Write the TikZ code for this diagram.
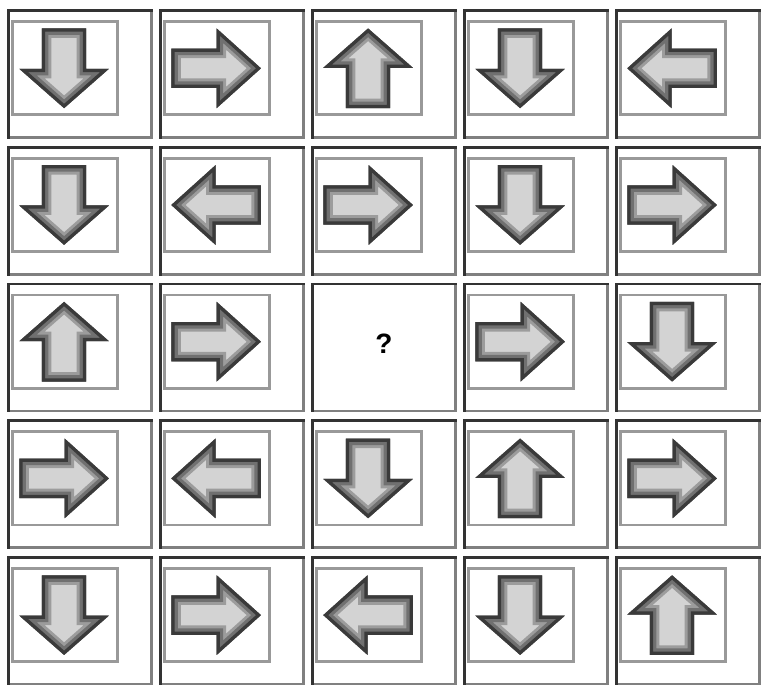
\documentclass[tikz,border=0pt]{standalone}
\usepackage{fontspec}
\setmainfont{Liberation Sans}
\definecolor{edgedark}{HTML}{333333}
\definecolor{edgegray}{HTML}{808080}
\definecolor{boxgray}{HTML}{999999}
\definecolor{arrA}{HTML}{3A3A3A}
\definecolor{arrB}{HTML}{707070}
\definecolor{arrC}{HTML}{9C9C9C}
\definecolor{arrD}{HTML}{D3D3D3}
\newcommand\arrowshape[1]{\path[#1] (-0.415,-0.205) -- (0.005,-0.205) -- (0.005,-0.415) -- (0.415,0) -- (0.005,0.415) -- (0.005,0.205) -- (-0.415,0.205) -- cycle;}
\tikzset{
  innerbox/.style={draw=boxgray, line width=2.7pt},
  bandC/.style={draw=arrC, line width=19pt, line join=miter},
  bandB/.style={draw=arrB, line width=13pt, line join=miter},
  bandA/.style={draw=arrA, line width=6.5pt, line join=miter},
  qmark/.style={font=\bfseries\fontsize{28}{28}\selectfont, text=black, inner sep=0pt}
}
\begin{document}
\begin{tikzpicture}[x=1pt,y=-1pt]
\useasboundingbox (0,0) rectangle (763,685);
\fill[white] (0,0) rectangle (763,685);
\begin{scope}
\clip (0,0) rectangle (763,685);
\foreach \d [count=\k from 0] in {270,0,90,270,180, 270,180,0,270,0, 90,0,-1,0,270, 0,180,270,90,0, 270,0,180,270,90} {
  \pgfmathtruncatemacro\col{mod(\k,5)}
  \pgfmathtruncatemacro\row{div(\k,5)}
  \pgfmathsetmacro\xo{7.3+152*\col}
  \pgfmathsetmacro\yo{9.3+136.7*\row}
  % outer cell frame
  \fill[edgedark] (\xo,\yo) rectangle ++(145.5,2.7);
  \fill[edgedark] (\xo,\yo) rectangle ++(2.7,129.5);
  \fill[edgegray] ({\xo+142.8},{\yo+2.7}) rectangle ({\xo+145.5},{\yo+129.5});
  \fill[edgegray] ({\xo+2.7},{\yo+126.8}) rectangle ({\xo+145.5},{\yo+129.5});
  \coordinate (cell-\row-\col) at ({\xo+72.75},{\yo+64.75});
  \ifnum\d<0
    \node[qmark] (q) at ({\xo+72.5},{\yo+61.5}) {?};
  \else
    \draw[innerbox] ({\xo+3.5+1.35},{\yo+10.8+1.35}) rectangle ({\xo+111.5-1.35},{\yo+106.8-1.35});
    \begin{scope}[shift={({\xo+56.8},{\yo+59})}, xscale=108, yscale=96, rotate=\d]
      \arrowshape{fill=arrD}
      \begin{scope}
        \arrowshape{clip}
        \arrowshape{bandC}
        \arrowshape{bandB}
        \arrowshape{bandA}
      \end{scope}
    \end{scope}
  \fi
}
\end{scope}
\end{tikzpicture}
\end{document}
